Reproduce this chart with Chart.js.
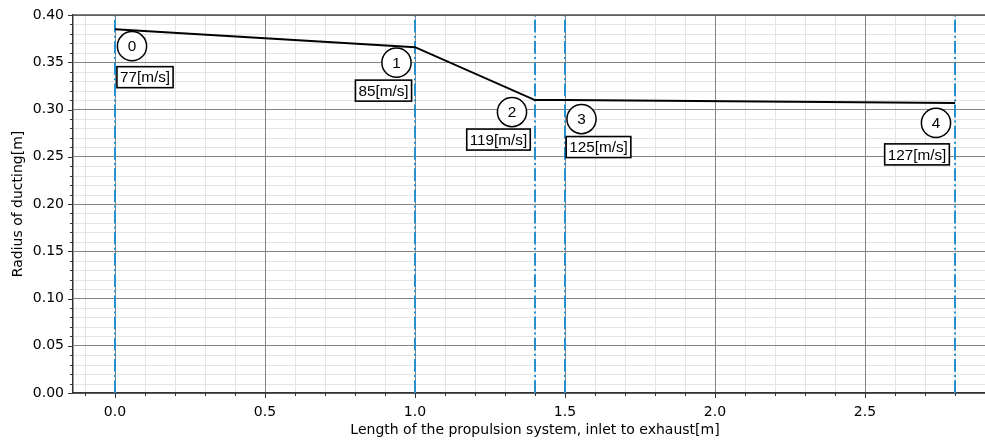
<!DOCTYPE html>
<html>
<head>
<meta charset="utf-8">
<script src="https://cdn.jsdelivr.net/npm/chart.js@4.4.1/dist/chart.umd.min.js"></script>
<style>
  html, body { margin: 0; padding: 0; background: #fff; overflow: hidden; width: 985px; height: 443px; }
  #wrap { width: 1000px; height: 443px; }
</style>
</head>
<body>
<div id="wrap"><canvas id="c" width="1000" height="443"></canvas></div>
<script>
// Duct stations along the propulsion system
const stations = ['0', '1', '2', '3', '4'];
const lengthM = [0.0, 1.0, 1.4, 1.5, 2.8];          // axial position [m]
const radiusM = [0.385, 0.366, 0.310, 0.310, 0.307]; // duct radius [m]
const velocity = [77, 85, 119, 125, 127];            // flow speed [m/s]

// Axis tick labels
const xTickLabels = ['0.0', '0.5', '1.0', '1.5', '2.0', '2.5'];
const yTickLabels = ['0.00', '0.05', '0.10', '0.15', '0.20', '0.25', '0.30', '0.35', '0.40'];

// Label placement (pixel offsets from each station point): circle, then speed box
const labelLayout = [
  { cx: 17, cy: 17, bx: 30, by: 48 },
  { cx: -18.5, cy: 15.5, bx: -31.5, by: 43.5 },
  { cx: -23, cy: 12, bx: -36.5, by: 39.5 },
  { cx: 16.5, cy: 19, bx: 33.5, by: 47 },
  { cx: -19, cy: 20, bx: -38, by: 51.5 }
];

const X_MIN = -0.14, X_MAX = 2.94, Y_MIN = 0, Y_MAX = 0.4;
const STATION_BLUE = '#2590cd';
const MAJOR_GRID = '#858585';
const MINOR_GRID = '#e4e4e4';
const AXIS_FONT = { family: 'DejaVu Sans', size: 14 };

function isMajor(v, step) {
  const r = v / step;
  return Math.abs(r - Math.round(r)) < 1e-6;
}
function labelFor(v, step, labels, digits) {
  if (!isMajor(v, step)) return '';
  const s = v.toFixed(digits);
  return labels.includes(s) ? s : '';
}

const datasets = [{
  label: 'radius',
  data: lengthM.map((x, i) => ({ x, y: radiusM[i] })),
  borderColor: '#000',
  borderWidth: 2,
  pointRadius: 0,
  showLine: true,
  tension: 0
}];
lengthM.forEach((x, i) => {
  datasets.push({
    label: 'station ' + stations[i],
    data: [{ x, y: Y_MIN }, { x, y: Y_MAX }],
    borderColor: STATION_BLUE,
    borderWidth: 2,
    borderDash: [12.8, 3.2, 2, 3.2],
    pointRadius: 0,
    showLine: true
  });
});

// Minor grid underneath everything else
const minorGrid = {
  id: 'minorGrid',
  beforeDraw(chart) {
    const { ctx, chartArea: a, scales: { x, y } } = chart;
    ctx.save();
    ctx.strokeStyle = MINOR_GRID;
    ctx.lineWidth = 1;
    x.ticks.forEach(t => {
      if (isMajor(t.value, 0.5)) return;
      const px = Math.round(x.getPixelForValue(t.value)) + 0.5;
      ctx.beginPath(); ctx.moveTo(px, a.top); ctx.lineTo(px, a.bottom); ctx.stroke();
    });
    y.ticks.forEach(t => {
      if (isMajor(t.value, 0.05)) return;
      const py = Math.round(y.getPixelForValue(t.value)) + 0.5;
      ctx.beginPath(); ctx.moveTo(a.left, py); ctx.lineTo(a.right, py); ctx.stroke();
    });
    ctx.restore();
  }
};

// Minor/major tick marks, top spine and station annotations
const decorations = {
  id: 'decorations',
  afterDatasetsDraw(chart) {
    const { ctx, chartArea: a, scales: { x, y } } = chart;
    ctx.save();
    ctx.strokeStyle = '#333';
    ctx.lineWidth = 1;
    x.ticks.forEach(t => {
      const px = Math.round(x.getPixelForValue(t.value)) + 0.5;
      const len = isMajor(t.value, 0.5) ? 5 : 3;
      ctx.beginPath(); ctx.moveTo(px, a.bottom); ctx.lineTo(px, a.bottom + len); ctx.stroke();
    });
    y.ticks.forEach(t => {
      const py = Math.round(y.getPixelForValue(t.value)) + 0.5;
      const len = isMajor(t.value, 0.05) ? 5 : 3;
      ctx.beginPath(); ctx.moveTo(a.left - len, py); ctx.lineTo(a.left, py); ctx.stroke();
    });
    // top spine
    ctx.strokeStyle = '#555';
    ctx.lineWidth = 1.5;
    ctx.beginPath(); ctx.moveTo(a.left, a.top); ctx.lineTo(a.right, a.top); ctx.stroke();

    // station numbers and speed boxes
    ctx.font = '15.3px "Liberation Sans", Arial, sans-serif';
    ctx.textAlign = 'center';
    ctx.textBaseline = 'middle';
    stations.forEach((name, i) => {
      const px = x.getPixelForValue(lengthM[i]);
      const py = y.getPixelForValue(radiusM[i]);
      const L = labelLayout[i];
      // circled station number
      ctx.beginPath();
      ctx.arc(px + L.cx, py + L.cy, 14.6, 0, Math.PI * 2);
      ctx.fillStyle = '#fff'; ctx.fill();
      ctx.lineWidth = 1.5; ctx.strokeStyle = '#000'; ctx.stroke();
      ctx.fillStyle = '#000';
      ctx.fillText(name, px + L.cx, py + L.cy + 1);
      // speed box
      const txt = velocity[i] + '[m/s]';
      const w = ctx.measureText(txt).width + 6;
      const h = 21;
      const bx = px + L.bx, by = py + L.by;
      ctx.fillStyle = '#fff';
      ctx.fillRect(bx - w / 2, by - h / 2, w, h);
      ctx.lineWidth = 1.6; ctx.strokeStyle = '#000';
      ctx.strokeRect(bx - w / 2, by - h / 2, w, h);
      ctx.fillStyle = '#000';
      ctx.fillText(txt, bx, by + 1);
    });
    ctx.restore();
  }
};

new Chart(document.getElementById('c'), {
  type: 'scatter',
  data: { datasets },
  options: {
    responsive: false,
    devicePixelRatio: 1,
    animation: false,
    layout: { padding: { top: 15, right: 3, left: 0, bottom: 0 } },
    plugins: { legend: { display: false }, tooltip: { enabled: false } },
    scales: {
      x: {
        type: 'linear',
        min: X_MIN, max: X_MAX,
        afterFit(s) { s.height = 50; },
        ticks: {
          stepSize: 0.1,
          includeBounds: false,
          autoSkip: false,
          maxRotation: 0,
          padding: 11,
          color: '#000',
          font: AXIS_FONT,
          callback: v => labelFor(v, 0.5, xTickLabels, 1)
        },
        grid: {
          drawTicks: false,
          lineWidth: 1,
          color: c => isMajor(c.tick.value, 0.5) ? MAJOR_GRID : 'rgba(0,0,0,0)'
        },
        border: { display: true, color: '#333', width: 1.5 },
        title: {
          display: true,
          text: 'Length of the propulsion system, inlet to exhaust[m]',
          color: '#000',
          font: AXIS_FONT,
          padding: { top: 0, bottom: 4.5 }
        }
      },
      y: {
        type: 'linear',
        min: Y_MIN, max: Y_MAX,
        afterFit(s) { s.width = 73; },
        ticks: {
          stepSize: 0.01,
          includeBounds: false,
          autoSkip: false,
          padding: 9,
          color: '#000',
          font: { family: 'DejaVu Sans', size: 14, lineHeight: 0.8 },
          callback: v => labelFor(v, 0.05, yTickLabels, 2)
        },
        grid: {
          drawTicks: false,
          lineWidth: 1,
          color: c => isMajor(c.tick.value, 0.05) ? MAJOR_GRID : 'rgba(0,0,0,0)'
        },
        border: { display: true, color: '#333', width: 1.5 },
        title: {
          display: true,
          text: 'Radius of ducting[m]',
          color: '#000',
          font: AXIS_FONT,
          padding: { top: 9.5, bottom: 0 }
        }
      }
    }
  },
  plugins: [minorGrid, decorations]
});
</script>
</body>
</html>
